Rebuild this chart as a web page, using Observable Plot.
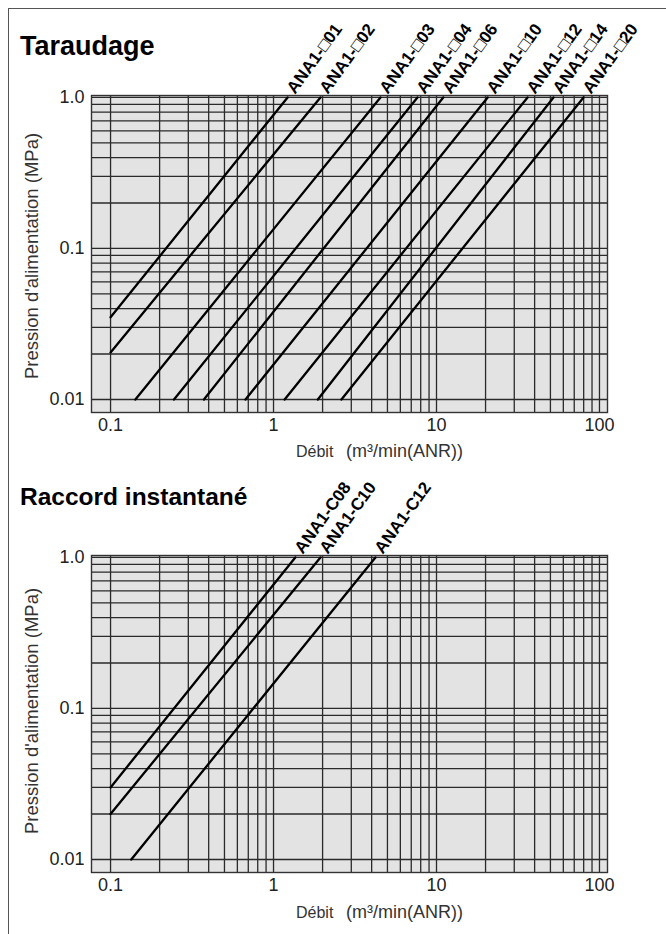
<!DOCTYPE html>
<html><head><meta charset="utf-8">
<script src="https://cdn.jsdelivr.net/npm/d3@7"></script>
<script src="https://cdn.jsdelivr.net/npm/@observablehq/plot@0.6"></script>
<style>
body{margin:0;background:#fff;font-family:"Liberation Sans",Arial,sans-serif;}
#page{position:relative;width:666px;height:934px;overflow:hidden;background:#fff;}
.abs{position:absolute;}
.title{font-weight:bold;line-height:25px;color:#000;left:20px;white-space:nowrap;}
.ylab{font-size:18.5px;line-height:20px;color:#333;width:300px;text-align:center;transform:rotate(-90deg);white-space:nowrap;}
.xlab{line-height:20px;color:#333;white-space:pre;}
#bt{left:8px;top:8px;width:658px;height:0;border-top:1.5px solid #555;}
#bl{left:8px;top:8px;width:0;height:926px;border-left:1.5px solid #555;}
.chart{position:absolute;left:0;}
</style></head>
<body><div id="page">
<div id="bt" class="abs"></div><div id="bl" class="abs"></div>
<div class="abs title" style="top:34px;font-size:27px">Taraudage</div>
<div class="abs title" style="top:484px;font-size:24.5px">Raccord instantané</div>
<div id="c1" class="chart" style="top:0px"></div>
<div id="c2" class="chart" style="top:470px"></div>
<div class="abs ylab" style="left:-118px;top:246px">Pression d'alimentation (MPa)</div>
<div class="abs ylab" style="left:-118px;top:701px">Pression d'alimentation (MPa)</div>
<div class="abs xlab" style="left:296px;top:442px;font-size:16px">Débit</div>
<div class="abs xlab" style="left:346px;top:441px;font-size:18px">(m³/min(ANR))</div>
<div class="abs xlab" style="left:296px;top:903px;font-size:16px">Débit</div>
<div class="abs xlab" style="left:346px;top:902px;font-size:18px">(m³/min(ANR))</div>
</div>
<script>
// Taraudage (threaded) series
const tapNames = ["ANA1-□01","ANA1-□02","ANA1-□03","ANA1-□04","ANA1-□06","ANA1-□10","ANA1-□12","ANA1-□14","ANA1-□20"];
const tapStartFlow  = [0.1, 0.1, 0.142, 0.245, 0.374, 0.673, 1.17, 1.87, 2.61];
const tapStartPress = [0.035, 0.0205, 0.01, 0.01, 0.01, 0.01, 0.01, 0.01, 0.01];
const tapEndFlow    = [1.22, 1.94, 4.53, 7.64, 11.0, 20.6, 36.2, 52.2, 79.8];
const tapEndPress   = [1, 1, 1, 1, 1, 1, 1, 1, 1];
// Raccord instantané (push-in fitting) series
const rapNames = ["ANA1-C08","ANA1-C10","ANA1-C12"];
const rapStartFlow  = [0.1, 0.1, 0.134];
const rapStartPress = [0.03, 0.02, 0.01];
const rapEndFlow    = [1.36, 1.94, 4.22];
const rapEndPress   = [1, 1, 1];
// grid and ticks
const xGrid = [0.1,0.2,0.3,0.4,0.5,0.6,0.7,0.8,0.9,1,2,3,4,5,6,7,8,9,10,20,30,40,50,60,70,80,90,100];
const yGrid = [0.01,0.02,0.03,0.04,0.05,0.06,0.07,0.08,0.09,0.1,0.2,0.3,0.4,0.5,0.6,0.7,0.8,0.9,1];
const xTicks = [0.1, 1, 10, 100];
const xTickLabels = ["0.1","1","10","100"];
const yTicks = [0.01, 0.1, 1];
const yTickLabels = ["0.01","0.1","1.0"];

function chart(names, sf, sp, ef, ep, height, marginTop, marginBottom) {
  const rows = [];
  names.forEach((n, i) => { rows.push({name: n, x: sf[i], y: sp[i]}); rows.push({name: n, x: ef[i], y: ep[i]}); });
  const ends = names.map((n, i) => ({name: n, x: ef[i], y: ep[i]}));
  return Plot.plot({
    width: 666, height, marginTop, marginBottom, marginLeft: 91, marginRight: 59,
    style: {fontFamily: "Liberation Sans, Arial, sans-serif", fontSize: "18px", background: "transparent", overflow: "visible", color: "#222"},
    x: {type: "log", domain: [0.0764, 112], ticks: xTicks, tickFormat: d => xTickLabels[xTicks.indexOf(d)], tickSize: 0, tickPadding: 6, label: null},
    y: {type: "log", domain: [0.0082, 1.03], ticks: yTicks, tickFormat: d => yTickLabels[yTicks.indexOf(d)], tickSize: 0, tickPadding: 7, label: null},
    marks: [
      Plot.frame({fill: "#e3e3e3"}),
      Plot.ruleX(xGrid, {stroke: "#2a2a2a", strokeWidth: 1.3}),
      Plot.ruleY(yGrid, {stroke: "#2a2a2a", strokeWidth: 1.3}),
      Plot.line(rows, {x: "x", y: "y", z: "name", stroke: "#000", strokeWidth: 2.3}),
      Plot.frame({stroke: "#333", strokeWidth: 1.4}),
      Plot.text(ends, {x: "x", y: "y", text: "name", rotate: -54, textAnchor: "start", lineAnchor: "middle", dx: 3, dy: -6, fontWeight: "bold", fontSize: 17, fill: "#000"})
    ]
  });
}
document.getElementById("c1").append(chart(tapNames, tapStartFlow, tapStartPress, tapEndFlow, tapEndPress, 470, 95, 58));
document.getElementById("c2").append(chart(rapNames, rapStartFlow, rapStartPress, rapEndFlow, rapEndPress, 464, 85, 62));
</script>
</body></html>
